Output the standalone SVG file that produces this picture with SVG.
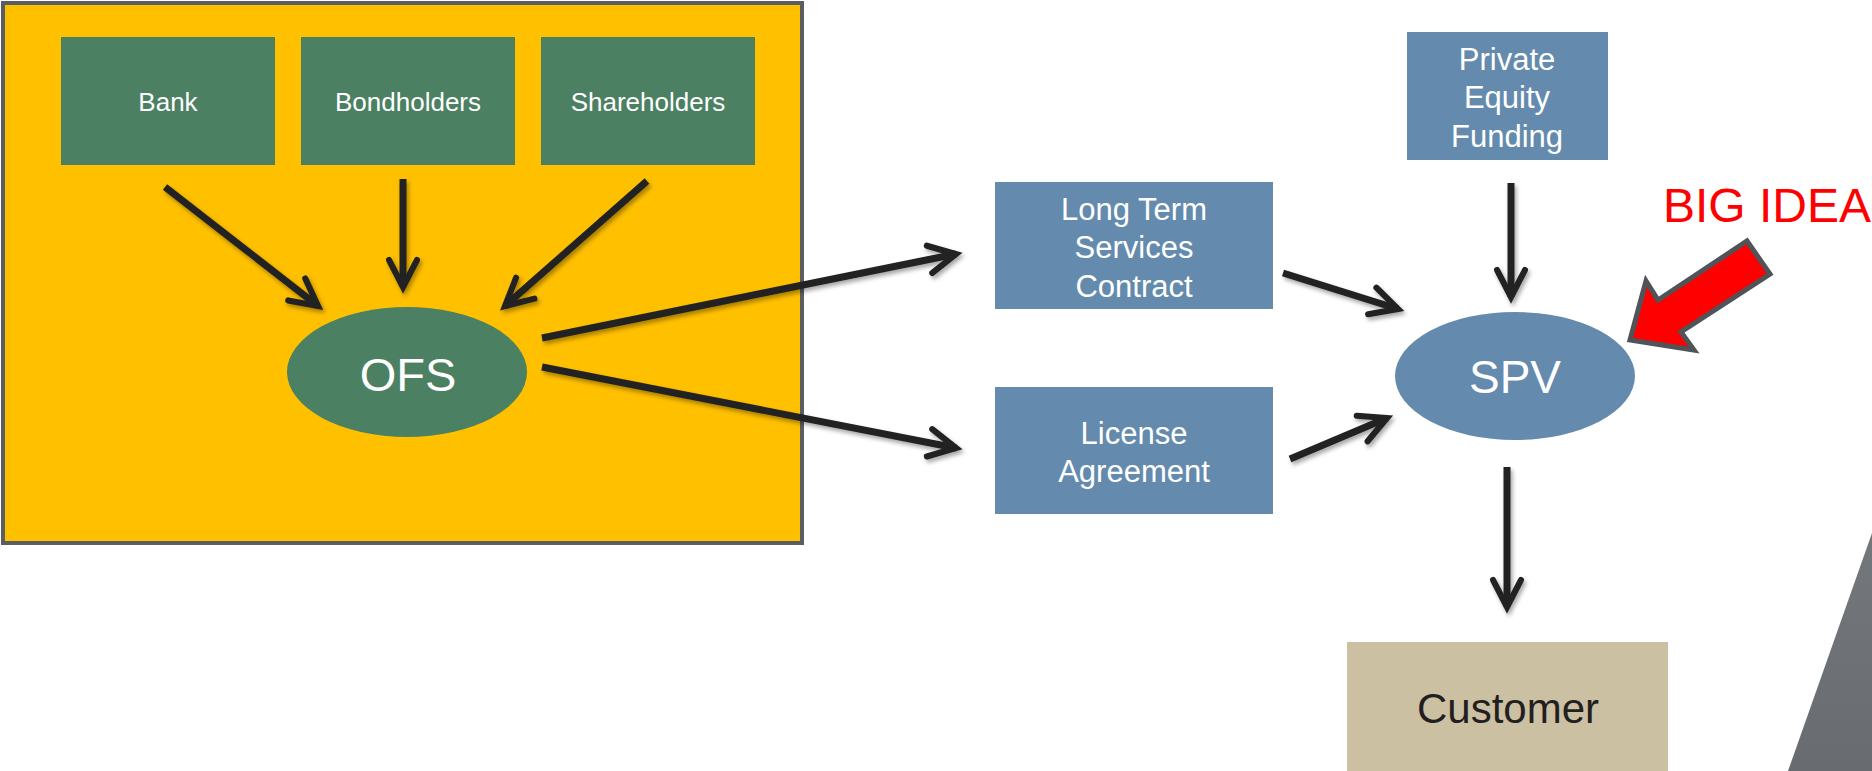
<svg xmlns="http://www.w3.org/2000/svg" width="1872" height="771" viewBox="0 0 1872 771">
  <defs>
    <style>
      .green { fill: #4b8062; }
      .blue { fill: #648bad; }
      .lbl { font-family: "Liberation Sans", Arial, sans-serif; fill: #ffffff; text-anchor: middle; }
      .conn line { stroke: #222222; stroke-width: 7; fill: none; marker-end: url(#chev); }
    </style>
    <marker id="chev" markerUnits="userSpaceOnUse" orient="auto" refX="0" refY="0" markerWidth="40" markerHeight="40" viewBox="-40 -20 46 40" overflow="visible">
      <path d="M-31,-16 L0,0 L-31,16" fill="none" stroke="#222222" stroke-width="7" stroke-linecap="round" stroke-linejoin="miter"/>
    </marker>
    <filter id="shadow" x="-20%" y="-20%" width="140%" height="140%">
      <feDropShadow dx="2" dy="3" stdDeviation="2" flood-color="#000000" flood-opacity="0.35"/>
    </filter>
    <linearGradient id="slab" x1="0" y1="0" x2="0" y2="1">
      <stop offset="0" stop-color="#74777b"/>
      <stop offset="1" stop-color="#686c70"/>
    </linearGradient>
  </defs>

  <rect width="1872" height="771" fill="#ffffff"/>

  <!-- dark slab in the lower right corner -->
  <polygon points="1788,771 1872,533 1872,771" fill="url(#slab)"/>

  <!-- yellow panel holding the OFS side -->
  <rect id="panel" x="3" y="3" width="799" height="540" fill="#ffc000" stroke="#5a5d61" stroke-width="4"/>

  <g id="bank">
    <rect class="green" x="61" y="37" width="214" height="128"/>
    <text class="lbl" x="168" y="111" font-size="26">Bank</text>
  </g>
  <g id="bondholders">
    <rect class="green" x="301" y="37" width="214" height="128"/>
    <text class="lbl" x="408" y="111" font-size="26">Bondholders</text>
  </g>
  <g id="shareholders">
    <rect class="green" x="541" y="37" width="214" height="128"/>
    <text class="lbl" x="648" y="111" font-size="26">Shareholders</text>
  </g>
  <g id="ofs">
    <ellipse class="green" cx="407" cy="372" rx="120" ry="65"/>
    <text class="lbl" x="408" y="391" font-size="47">OFS</text>
  </g>

  <g id="ltsc">
    <rect class="blue" x="995" y="182" width="278" height="127"/>
    <text class="lbl" x="1134" y="220" font-size="31">Long Term</text>
    <text class="lbl" x="1134" y="258" font-size="31">Services</text>
    <text class="lbl" x="1134" y="297" font-size="31">Contract</text>
  </g>
  <g id="license">
    <rect class="blue" x="995" y="387" width="278" height="127"/>
    <text class="lbl" x="1134" y="444" font-size="31">License</text>
    <text class="lbl" x="1134" y="482" font-size="31">Agreement</text>
  </g>
  <g id="private-equity">
    <rect class="blue" x="1407" y="32" width="201" height="128"/>
    <text class="lbl" x="1507" y="70" font-size="31">Private</text>
    <text class="lbl" x="1507" y="108" font-size="31">Equity</text>
    <text class="lbl" x="1507" y="147" font-size="31">Funding</text>
  </g>
  <g id="spv">
    <ellipse class="blue" cx="1515" cy="376" rx="120" ry="64"/>
    <text class="lbl" x="1515" y="393" font-size="46">SPV</text>
  </g>
  <g id="customer">
    <rect x="1347" y="642" width="321" height="140" fill="#ccc0a3"/>
    <text class="lbl" x="1508" y="723" font-size="42" style="fill:#231f20">Customer</text>
  </g>

  <g id="big-idea">
    <text x="1663" y="222" font-family="'Liberation Sans', Arial, sans-serif" font-size="48" fill="#ff0000">BIG IDEA</text>
    <polygon points="1630,340 1646,281 1658,300 1747,241 1770,274 1681,332 1694,350" fill="#ff0000" stroke="#505358" stroke-width="5" stroke-linejoin="miter"/>
  </g>

  <g id="connectors" class="conn" filter="url(#shadow)">
    <line x1="165" y1="187" x2="318" y2="306"/>
    <line x1="403" y1="179" x2="403" y2="287"/>
    <line x1="647" y1="181" x2="505" y2="306"/>
    <line x1="542" y1="338" x2="956" y2="254"/>
    <line x1="542" y1="367" x2="956" y2="448"/>
    <line x1="1283" y1="273" x2="1398" y2="309"/>
    <line x1="1290" y1="459" x2="1387" y2="418"/>
    <line x1="1511" y1="183" x2="1511" y2="297"/>
    <line x1="1507" y1="467" x2="1507" y2="607"/>
  </g>
</svg>
